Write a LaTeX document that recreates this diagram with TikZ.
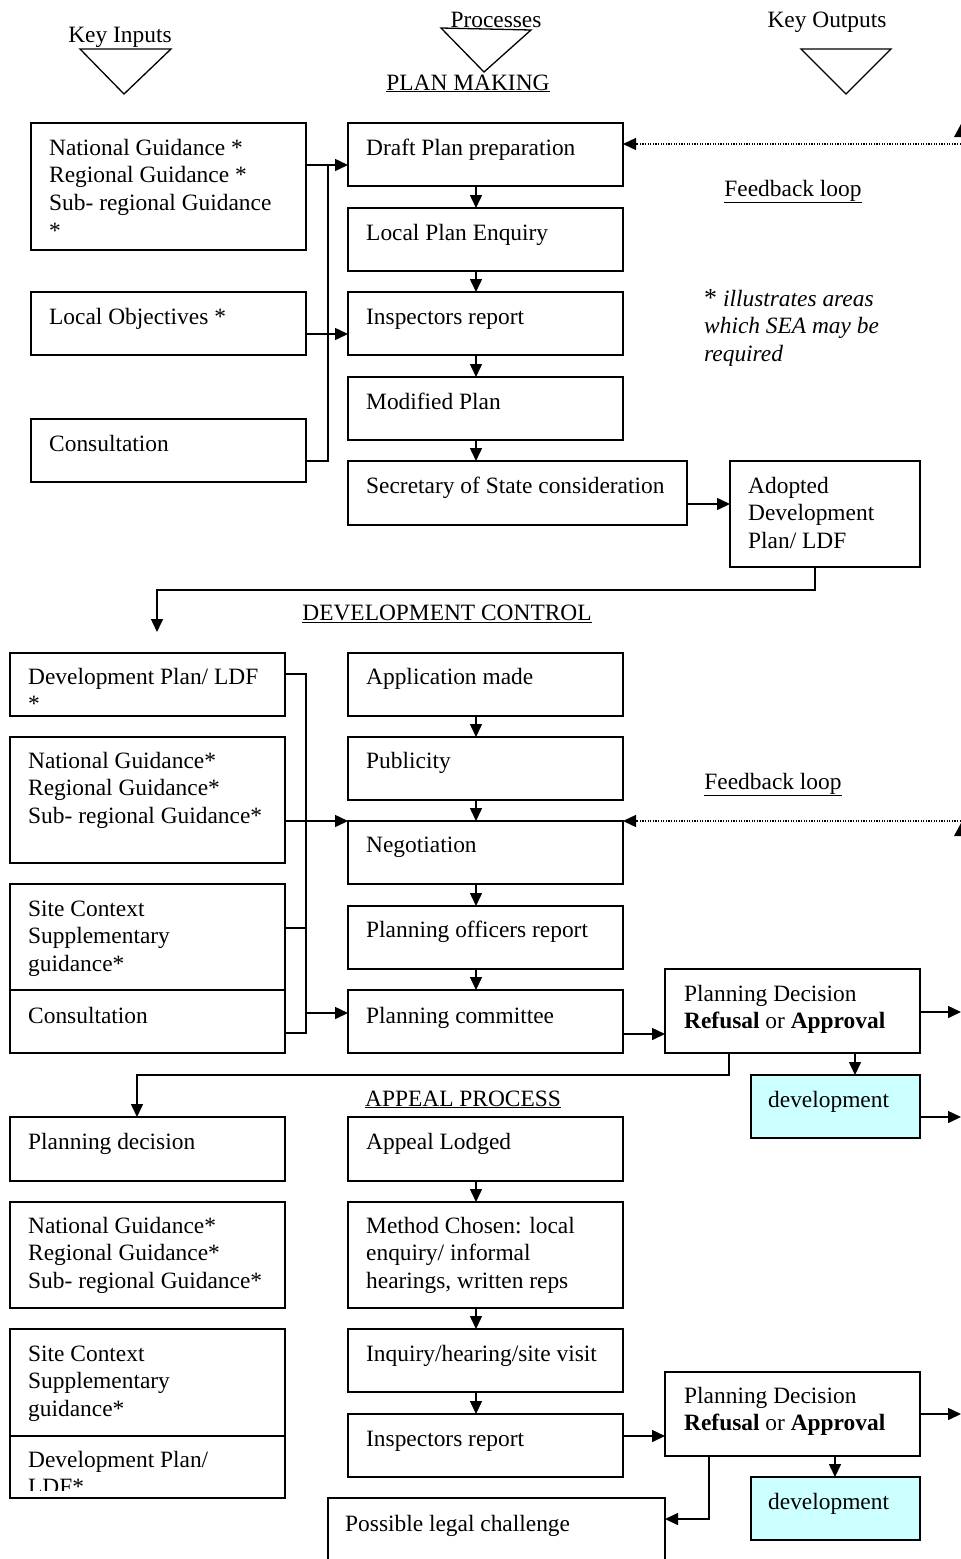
\documentclass[tikz,border=0pt]{standalone}
\usepackage{fontspec}
\setmainfont{Liberation Serif}
\usetikzlibrary{arrows.meta,calc}
\definecolor{devfill}{HTML}{CCFFFF}
\newcommand\ml[1]{\parbox[t]{320pt}{#1}}
\begin{document}
\begin{tikzpicture}[x=1pt,y=-1pt,
  box/.style={draw, line width=1.5pt, anchor=north west, inner sep=0pt, outer sep=0pt},
  devbox/.style={box, fill=devfill},
  txt/.style={anchor=base west, inner sep=0pt, font=\fontsize{23.4}{27.8}\selectfont},
  head/.style={anchor=base, inner sep=0pt, font=\fontsize{23.4}{27.8}\selectfont},
  ln/.style={line width=1.5pt},
  arr/.style={ln, -{Triangle[length=13pt,width=12pt]}},
  fb/.style={line width=1.4pt, dash pattern=on 1.3pt off 1.3pt, -{Triangle[length=13pt,width=12pt]}},
  tri/.style={line width=1.3pt, line join=miter},
]
\useasboundingbox (0,0) rectangle (961,1559);
\clip (0,0) rectangle (961,1559);

% ---------- header ----------
\node[head] (hin) at (120,42) {Key Inputs};
\node[head] (hpr) at (496,27) {Processes};
\node[head] (hout) at (827,27) {Key Outputs};
\draw[tri] (80,49) -- (171,49) -- (124,94) -- cycle;
\draw[tri] (441,28) -- (531,30) -- (484,72) -- cycle;
\draw[tri] (801,49) -- (891,49) -- (846,94) -- cycle;
\node[head] (hpm) at (468,90) {\underline{PLAN MAKING}};

% ---------- plan making ----------
\node[box, minimum width=275pt, minimum height=127pt] (l1) at (31,123) {};
\node[box, minimum width=275pt, minimum height=63pt] (l2) at (31,292) {};
\node[box, minimum width=275pt, minimum height=63pt] (l3) at (31,419) {};
\node[box, minimum width=275pt, minimum height=63pt] (p1) at (348,123) {};
\node[box, minimum width=275pt, minimum height=63pt] (p2) at (348,208) {};
\node[box, minimum width=275pt, minimum height=63pt] (p3) at (348,292) {};
\node[box, minimum width=275pt, minimum height=63pt] (p4) at (348,377) {};
\node[box, minimum width=339pt, minimum height=64pt] (p5) at (348,461) {};
\node[box, minimum width=190pt, minimum height=106pt] (ad) at (730,461) {};

\node[txt] (l1t) at ([shift={(18,32)}]l1.north west) {\ml{National Guidance *\\Regional Guidance *\\Sub- regional Guidance\\{*}}};
\node[txt] (l2t) at ([shift={(18,32)}]l2.north west) {Local Objectives *};
\node[txt] (l3t) at ([shift={(18,32)}]l3.north west) {Consultation};
\node[txt] (p1t) at ([shift={(18,32)}]p1.north west) {Draft Plan preparation};
\node[txt] (p2t) at ([shift={(18,32)}]p2.north west) {Local Plan Enquiry};
\node[txt] (p3t) at ([shift={(18,32)}]p3.north west) {Inspectors report};
\node[txt] (p4t) at ([shift={(18,32)}]p4.north west) {Modified Plan};
\node[txt] (p5t) at ([shift={(18,32)}]p5.north west) {Secretary of State consideration};
\node[txt] (adt) at ([shift={(18,32)}]ad.north west) {\ml{Adopted\\Development\\Plan/ LDF}};

\node[head] (fl1) at (793,196) {\underline{Feedback loop}};
\node[txt] (note) at (704,306) {\ml{{\fontsize{26}{27.8}\selectfont *} \textit{illustrates areas}\\\textit{which SEA may be}\\\textit{required}}};

\coordinate (cx) at (476,0);
\coordinate (b1) at (328,165);
\coordinate (b2) at (328,334);
\coordinate (b3) at (328,461);
\draw[ln] (l1.east |- b1) -- (b1);
\draw[ln] (l3.east |- b3) -- (b3) -- (b1);
\draw[arr] (b1) -- (p1.west |- b1);
\draw[ln] (l2.east |- b2) -- (b2);
\draw[arr] (b2) -- (p3.west |- b2);
\draw[arr] (p1.south -| cx) -- (p2.north -| cx);
\draw[arr] (p2.south -| cx) -- (p3.north -| cx);
\draw[arr] (p3.south -| cx) -- (p4.north -| cx);
\draw[arr] (p4.south -| cx) -- (p5.north -| cx);
\coordinate (c5) at (700,504);
\draw[arr] (p5.east |- c5) -- (ad.west |- c5);

\coordinate (f1) at (966,144);
\draw[fb] (f1) -- (p1.east |- f1);
\fill (961,124) -- (968,137) -- (954,137) -- cycle;

\coordinate (k1) at (815,590);
\coordinate (k2) at (157,590);
\coordinate (k3) at (157,632);
\draw[arr] (ad.south -| k1) -- (k1) -- (k2) -- (k3);
\node[head] (hdc) at (447,620) {\underline{DEVELOPMENT CONTROL}};

% ---------- development control ----------
\node[box, minimum width=275pt, minimum height=63pt] (d1) at (10,653) {};
\node[box, minimum width=275pt, minimum height=126pt] (d2) at (10,737) {};
\node[box, minimum width=275pt, minimum height=106pt] (d3) at (10,884) {};
\node[box, minimum width=275pt, minimum height=63pt] (d4) at (10,990) {};
\node[box, minimum width=275pt, minimum height=63pt] (q1) at (348,653) {};
\node[box, minimum width=275pt, minimum height=63pt] (q2) at (348,737) {};
\node[box, minimum width=275pt, minimum height=63pt] (q3) at (348,821) {};
\node[box, minimum width=275pt, minimum height=63pt] (q4) at (348,906) {};
\node[box, minimum width=275pt, minimum height=63pt] (q5) at (348,990) {};
\node[box, minimum width=255pt, minimum height=84pt] (pd1) at (665,969) {};
\node[devbox, minimum width=169pt, minimum height=63pt] (dv1) at (751,1075) {};

\node[txt] (d1t) at ([shift={(18,31)}]d1.north west) {\ml{Development Plan/ LDF\\{*}}};
\node[txt] (d2t) at ([shift={(18,31)}]d2.north west) {\ml{National Guidance*\\Regional Guidance*\\Sub- regional Guidance*}};
\node[txt] (d3t) at ([shift={(18,32)}]d3.north west) {\ml{Site Context\\Supplementary\\guidance*}};
\node[txt] (d4t) at ([shift={(18,33)}]d4.north west) {Consultation};
\node[txt] (q1t) at ([shift={(18,31)}]q1.north west) {Application made};
\node[txt] (q2t) at ([shift={(18,31)}]q2.north west) {Publicity};
\node[txt] (q3t) at ([shift={(18,31)}]q3.north west) {Negotiation};
\node[txt] (q4t) at ([shift={(18,31)}]q4.north west) {Planning officers report};
\node[txt] (q5t) at ([shift={(18,33)}]q5.north west) {Planning committee};
\node[txt] (pd1t) at ([shift={(19,32)}]pd1.north west) {\ml{Planning Decision\\\textbf{Refusal} or \textbf{Approval}}};
\node[txt] (dv1t) at ([shift={(17,32)}]dv1.north west) {development};

\node[head] (fl2) at (773,789) {\underline{Feedback loop}};

\coordinate (e1) at (306,674);
\coordinate (e2) at (306,821);
\coordinate (e3) at (306,928);
\coordinate (e4) at (306,1013);
\coordinate (e5) at (306,1033);
\draw[ln] (d1.east |- e1) -- (e1) -- (e5) -- (d4.east |- e5);
\draw[ln] (d2.east |- e2) -- (e2);
\draw[arr] (e2) -- (q3.west |- e2);
\draw[ln] (d3.east |- e3) -- (e3);
\draw[arr] (e4) -- (q5.west |- e4);
\draw[arr] (q1.south -| cx) -- (q2.north -| cx);
\draw[arr] (q2.south -| cx) -- (q3.north -| cx);
\draw[arr] (q3.south -| cx) -- (q4.north -| cx);
\draw[arr] (q4.south -| cx) -- (q5.north -| cx);

\coordinate (f2) at (966,821);
\draw[fb] (f2) -- (q3.east |- f2);
\fill (961,823) -- (968,836) -- (954,836) -- cycle;

\coordinate (g1) at (640,1034);
\coordinate (g2) at (961,1012);
\coordinate (g3) at (855,0);
\coordinate (g4) at (961,1117);
\draw[arr] (q5.east |- g1) -- (pd1.west |- g1);
\draw[arr] (pd1.east |- g2) -- (g2);
\draw[arr] (pd1.south -| g3) -- (dv1.north -| g3);
\draw[arr] (dv1.east |- g4) -- (g4);

\coordinate (h1) at (729,1075);
\coordinate (h2) at (137,1075);
\draw[arr] (pd1.south -| h1) -- (h1) -- (h2) -- (h2 |- 0,1117);
\node[head] (hap) at (463,1106) {\underline{APPEAL PROCESS}};

% ---------- appeal process ----------
\node[box, minimum width=275pt, minimum height=64pt] (a1) at (10,1117) {};
\node[box, minimum width=275pt, minimum height=106pt] (a2) at (10,1202) {};
\node[box, minimum width=275pt, minimum height=107pt] (a3) at (10,1329) {};
\node[box, minimum width=275pt, minimum height=62pt] (a4) at (10,1436) {};
\node[box, minimum width=275pt, minimum height=64pt] (r1) at (348,1117) {};
\node[box, minimum width=275pt, minimum height=106pt] (r2) at (348,1202) {};
\node[box, minimum width=275pt, minimum height=63pt] (r3) at (348,1329) {};
\node[box, minimum width=275pt, minimum height=63pt] (r4) at (348,1414) {};
\node[box, minimum width=255pt, minimum height=84pt] (pd2) at (665,1372) {};
\node[devbox, minimum width=169pt, minimum height=63pt] (dv2) at (751,1477) {};
\node[box, minimum width=337pt, minimum height=90pt] (lg) at (328,1498) {};

\node[txt] (a1t) at ([shift={(18,32)}]a1.north west) {Planning decision};
\node[txt] (a2t) at ([shift={(18,31)}]a2.north west) {\ml{National Guidance*\\Regional Guidance*\\Sub- regional Guidance*}};
\node[txt] (a3t) at ([shift={(18,32)}]a3.north west) {\ml{Site Context\\Supplementary\\guidance*}};
\begin{scope}
\clip (a4.north west) rectangle ([yshift=8]a4.south east);
\node[txt] (a4t) at ([shift={(18,31)}]a4.north west) {\ml{Development Plan/\\LDF*}};
\end{scope}
\node[txt] (r1t) at ([shift={(18,32)}]r1.north west) {Appeal Lodged};
\node[txt] (r2t) at ([shift={(18,31)}]r2.north west) {\ml{Method Chosen: local\\enquiry/ informal\\hearings, written reps}};
\node[txt] (r3t) at ([shift={(18,32)}]r3.north west) {Inquiry/hearing/site visit};
\node[txt] (r4t) at ([shift={(18,32)}]r4.north west) {Inspectors report};
\node[txt] (pd2t) at ([shift={(19,31)}]pd2.north west) {\ml{Planning Decision\\\textbf{Refusal} or \textbf{Approval}}};
\node[txt] (dv2t) at ([shift={(17,32)}]dv2.north west) {development};
\node[txt] (lgt) at ([shift={(17,33)}]lg.north west) {Possible legal challenge};

\draw[arr] (r1.south -| cx) -- (r2.north -| cx);
\draw[arr] (r2.south -| cx) -- (r3.north -| cx);
\draw[arr] (r3.south -| cx) -- (r4.north -| cx);

\coordinate (m1) at (640,1436);
\coordinate (m2) at (961,1414);
\coordinate (m3) at (835,0);
\coordinate (m4) at (709,1519);
\draw[arr] (r4.east |- m1) -- (pd2.west |- m1);
\draw[arr] (pd2.east |- m2) -- (m2);
\draw[arr] (pd2.south -| m3) -- (dv2.north -| m3);
\draw[arr] (pd2.south -| m4) -- (m4) -- (lg.east |- m4);
\end{tikzpicture}
\end{document}
